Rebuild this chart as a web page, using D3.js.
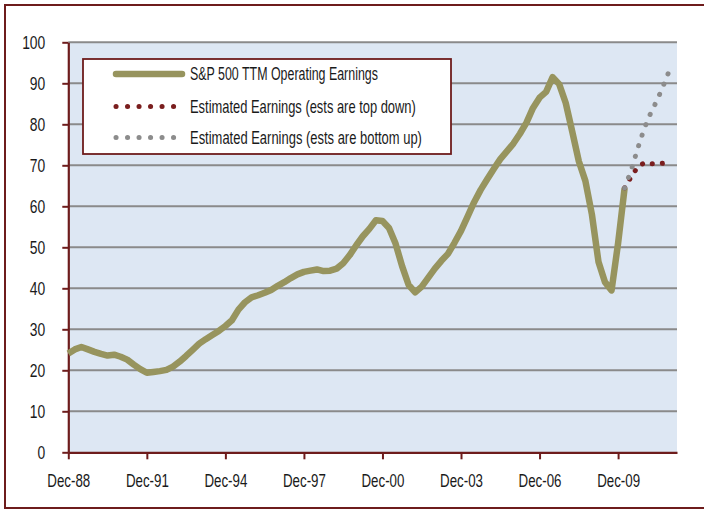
<!DOCTYPE html>
<html>
<head>
<meta charset="utf-8">
<script src="https://cdn.jsdelivr.net/npm/d3@7/dist/d3.min.js"></script>
<style>
  html, body { margin: 0; padding: 0; background: #fff; }
  svg { display: block; }
  text { font-family: "Liberation Sans", Arial, sans-serif; fill: #1a1a1a; }
</style>
</head>
<body>
<svg id="chart" width="704" height="510"></svg>
<script>
// ---- Data (quarterly, starting Dec-88) ----
const actualEarnings = [
  24.1, 25.1, 25.7, 25.1, 24.5, 24.0, 23.6, 23.8, 23.3, 22.6,
  21.4, 20.3, 19.4, 19.6, 19.8, 20.1, 20.9, 22.1, 23.5, 25.0,
  26.5, 27.6, 28.6, 29.6, 30.8, 32.2, 34.8, 36.6, 37.8, 38.3,
  38.9, 39.6, 40.6, 41.5, 42.5, 43.4, 44.0, 44.3, 44.6, 44.2,
  44.3, 44.8, 46.1, 48.1, 50.5, 52.7, 54.5, 56.6, 56.4, 54.7,
  50.9, 45.4, 40.8, 39.0, 40.4, 42.6, 44.8, 46.7, 48.4, 51.1,
  54.0, 57.5, 61.0, 64.0, 66.6, 69.1, 71.5, 73.4, 75.3, 77.7,
  80.4, 84.0, 86.5, 87.9, 91.5, 89.8, 85.2, 78.2, 71.0, 66.2,
  58.0, 46.5, 41.5, 39.5, 51.0, 64.5
];
const estimateStart = 85;  // quarter index where estimates begin
const estTopDown  = [64.5, 67.2, 69.6, 70.6, 70.4, 70.4, 70.5, 70.5];
const estBottomUp = [64.5, 68.8, 74.1, 79.0, 82.8, 86.0, 89.8, 93.8];
const quarterCount = 93;
const xTickQuarters = [0, 12, 24, 36, 48, 60, 72, 84];
const xTickLabels = ["Dec-88", "Dec-91", "Dec-94", "Dec-97", "Dec-00", "Dec-03", "Dec-06", "Dec-09"];
const yTicks = [0, 10, 20, 30, 40, 50, 60, 70, 80, 90, 100];
const seriesNames = [
  "S&P 500 TTM Operating Earnings",
  "Estimated Earnings (ests are top down)",
  "Estimated Earnings (ests are bottom up)"
];

// ---- Styles ----
const maroon = "#6e1c1c";
const olive = "#97945e";
const redDot = "#7a1e1e";
const grayDot = "#8c8c8c";
const fontSize = 18.5;

// horizontally condense text around its anchor point (mimics a condensed face)
function condense(sel, f) {
  sel.each(function () {
    const x0 = +(this.getAttribute("x") || 0);
    this.setAttribute("transform", `translate(${x0},0) scale(${f},1) translate(${-x0},0)`);
  });
}
function fitWidth(sel, w) {
  sel.each(function () {
    const L = this.getComputedTextLength();
    condense(d3.select(this), w / L);
  });
}

const svg = d3.select("#chart");

// outer frame
svg.append("rect")
  .attr("x", 5).attr("y", 5).attr("width", 720).attr("height", 503)
  .attr("fill", "none").attr("stroke", maroon).attr("stroke-width", 2);

const plot = { left: 68.3, top: 42.3, right: 677, bottom: 452.3 };

const x = d3.scaleLinear().domain([0, quarterCount]).range([plot.left, plot.right]);
const y = d3.scaleLinear().domain([0, 100]).range([plot.bottom, plot.top]);

// plot background
svg.append("rect")
  .attr("x", plot.left).attr("y", plot.top)
  .attr("width", plot.right - plot.left).attr("height", plot.bottom - plot.top)
  .attr("fill", "#dde7f3");

// gridlines
svg.append("g").selectAll("line")
  .data(yTicks.filter(d => d > 0))
  .join("line")
  .attr("x1", plot.left).attr("x2", plot.right)
  .attr("y1", d => y(d)).attr("y2", d => y(d))
  .attr("stroke", "#8a8a8a").attr("stroke-width", 2);

// y axis
const yAxis = svg.append("g")
  .attr("transform", `translate(${plot.left},0)`)
  .call(d3.axisLeft(y).tickValues(yTicks).tickSize(6).tickSizeOuter(0).tickPadding(17));
yAxis.attr("font-family", null).attr("font-size", null);
yAxis.select(".domain").attr("stroke", maroon).attr("stroke-width", 2.2);
yAxis.selectAll(".tick line").attr("stroke", maroon).attr("stroke-width", 2);
yAxis.selectAll(".tick text").attr("font-size", fontSize).attr("fill", "#1a1a1a").call(condense, 0.75);

// x axis
const xAxis = svg.append("g")
  .attr("transform", `translate(0,${plot.bottom})`)
  .call(d3.axisBottom(x).tickValues(xTickQuarters)
    .tickFormat((d, i) => xTickLabels[i]).tickSize(7).tickSizeOuter(0).tickPadding(15));
xAxis.attr("font-family", null).attr("font-size", null);
xAxis.select(".domain").attr("stroke", maroon).attr("stroke-width", 2.2);
xAxis.selectAll(".tick line").attr("stroke", maroon).attr("stroke-width", 2);
xAxis.selectAll(".tick text").attr("font-size", fontSize).attr("fill", "#1a1a1a").call(condense, 0.72);

// series
const line = d3.line().x(d => x(d[0])).y(d => y(d[1]));
const actualPts = actualEarnings.map((v, i) => [i, v]);
const topPts = estTopDown.map((v, i) => [estimateStart + i, v]);
const botPts = estBottomUp.map((v, i) => [estimateStart + i, v]);

svg.append("path").datum(actualPts)
  .attr("d", line).attr("fill", "none")
  .attr("stroke", olive).attr("stroke-width", 6.5)
  .attr("stroke-linejoin", "round").attr("stroke-linecap", "butt");

svg.append("path").datum(topPts)
  .attr("d", line).attr("fill", "none")
  .attr("stroke", redDot).attr("stroke-width", 5)
  .attr("stroke-linecap", "round").attr("stroke-dasharray", "0.1 10");

svg.append("path").datum(botPts)
  .attr("d", line).attr("fill", "none")
  .attr("stroke", grayDot).attr("stroke-width", 5)
  .attr("stroke-linecap", "round").attr("stroke-dasharray", "0.1 11");

// legend
const legend = svg.append("g");
legend.append("rect")
  .attr("x", 83).attr("y", 59).attr("width", 368).attr("height", 95)
  .attr("fill", "#fff").attr("stroke", maroon).attr("stroke-width", 1.8);

const legendY = [74, 106.5, 137.5];
const legendTextWidth = [188, 226, 232];
const legendStyles = [
  { color: olive, width: 6.5, dash: null, x2: 182 },
  { color: redDot, width: 5, dash: "0.1 11.4", x2: 174 },
  { color: grayDot, width: 5, dash: "0.1 11.4", x2: 174 }
];
seriesNames.forEach((name, i) => {
  const st = legendStyles[i];
  legend.append("line")
    .attr("x1", 116).attr("x2", st.x2)
    .attr("y1", legendY[i]).attr("y2", legendY[i])
    .attr("stroke", st.color).attr("stroke-width", st.width)
    .attr("stroke-linecap", "round")
    .attr("stroke-dasharray", st.dash);
  legend.append("text")
    .attr("x", 190).attr("y", legendY[i]).attr("dy", "0.35em")
    .attr("font-size", fontSize)
    .text(name)
    .call(fitWidth, legendTextWidth[i]);
});
</script>
</body>
</html>
